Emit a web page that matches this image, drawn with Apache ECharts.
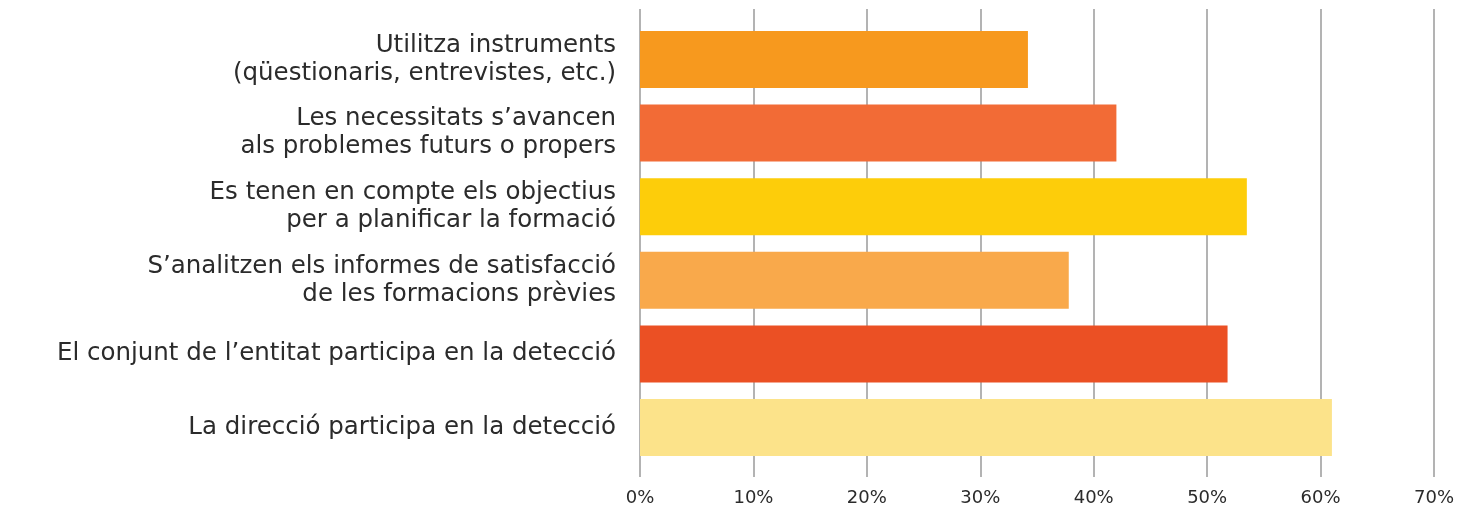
<!DOCTYPE html>
<html>
<head>
<meta charset="utf-8">
<script src="https://cdn.jsdelivr.net/npm/echarts@6/dist/echarts.min.js"></script>
<style>html,body{margin:0;padding:0;background:#fff;}#c{width:1461px;height:514px;}</style>
</head>
<body>
<div id="c"></div>
<script>
const categories = [
  "Utilitza instruments\n(qüestionaris, entrevistes, etc.)",
  "Les necessitats s’avancen\nals problemes futurs o propers",
  "Es tenen en compte els objectius\nper a planificar la formació",
  "S’analitzen els informes de satisfacció\nde les formacions prèvies",
  "El conjunt de l’entitat participa en la detecció",
  "La direcció participa en la detecció"
];
const values = [34.2, 42.0, 53.5, 37.8, 51.8, 61.0];
const barColors = ["#F7991E", "#F26B36", "#FDCD0A", "#F9A94B", "#EB5024", "#FCE38A"];
const xMin = 0, xMax = 70, xStep = 10;

const chart = echarts.init(document.getElementById('c'), null, {renderer: 'canvas'});
const font = "DejaVu Sans";
chart.setOption({
  animation: false,
  backgroundColor: '#ffffff',
  grid: [
    {left: 640, right: 27, top: 22.7, bottom: 49.7},
    {left: 640, right: 27, top: 9, bottom: 37}
  ],
  xAxis: [
    {gridIndex: 0, type: 'value', min: xMin, max: xMax, interval: xStep, show: false},
    {gridIndex: 1, type: 'value', min: xMin, max: xMax, interval: xStep,
     axisLine: {show: false}, axisTick: {show: false},
     splitLine: {show: true, lineStyle: {color: '#9a9a9a', width: 1.5}},
     axisLabel: {formatter: '{value}%', color: '#2b2b2b', fontSize: 18, fontFamily: font, margin: 12}}
  ],
  yAxis: [
    {gridIndex: 0, type: 'category', data: categories, inverse: true,
     axisLine: {show: false}, axisTick: {show: false}, splitLine: {show: false},
     axisLabel: {color: '#2b2b2b', fontSize: 24.5, lineHeight: 28, fontFamily: font, margin: 24, align: 'right'}},
    {gridIndex: 1, type: 'category', data: categories, show: false}
  ],
  series: [
    {type: 'bar', xAxisIndex: 0, yAxisIndex: 0, barWidth: 57,
     data: values.map((v, i) => ({value: v, itemStyle: {color: barColors[i]}})),
     z: 3}
  ]
});
</script>
</body>
</html>
